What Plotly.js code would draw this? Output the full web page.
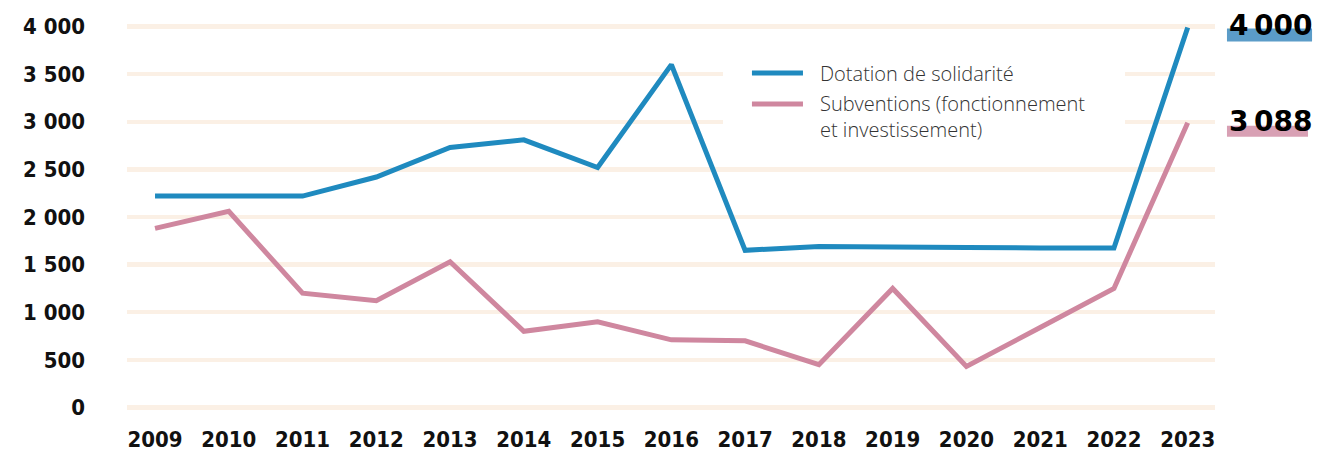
<!DOCTYPE html>
<html>
<head>
<meta charset="utf-8">
<script src="https://cdn.plot.ly/plotly-3.0.1.min.js"></script>
<style>html,body{margin:0;padding:0;background:#fff;}#chart{width:1344px;height:455px;}</style>
</head>
<body>
<div id="chart"></div>
<script>
// ---- data ----
const years = [2009, 2010, 2011, 2012, 2013, 2014, 2015, 2016, 2017, 2018, 2019, 2020, 2021, 2022, 2023];
const dotation = [2220, 2220, 2220, 2420, 2730, 2810, 2520, 3600, 1650, 1690, 1690, 1680, 1675, 1675, 3990];
const subventions = [1880, 2060, 1200, 1120, 1530, 800, 900, 710, 700, 450, 1250, 430, 840, 1250, 2990];
const seriesNames = ["Dotation de solidarité", "Subventions (fonctionnement<br>et investissement)"];
const endLabels = ["4\u2009000", "3\u2009088"];
const yTicks = [0, 500, 1000, 1500, 2000, 2500, 3000, 3500, 4000];

const blue = "#1f8abf";
const pink = "#cf879f";
const tickFont = {family: "'DejaVu Sans Condensed', 'Liberation Sans Narrow', sans-serif", size: 22, color: "#111", weight: 700};

const traces = [
  {x: years, y: dotation, name: seriesNames[0], type: "scatter", mode: "lines",
   line: {color: blue, width: 5}, showlegend: false, hoverinfo: "x+y"},
  {x: years, y: subventions, name: seriesNames[1], type: "scatter", mode: "lines",
   line: {color: pink, width: 5}, showlegend: false, hoverinfo: "x+y"}
];

const lastIdx = years.length - 1;
const legendFont = {family: "'Open Sans', 'Noto Sans', sans-serif", size: 20, color: "#333", weight: 300};
const labelFont = {family: "'DejaVu Sans', sans-serif", size: 28, color: "#000", weight: 700};

const shapes = [
  // white legend background (breaks gridlines)
  {type: "rect", xref: "paper", yref: "paper", x0: 0.5478, x1: 0.9173, y0: 0.6796, y1: 0.9049,
   fillcolor: "#ffffff", line: {width: 0}, layer: "above"},
  // legend line samples
  {type: "line", xref: "paper", yref: "paper", x0: 0.5744, x1: 0.6213, y0: 0.8598, y1: 0.8598,
   line: {color: blue, width: 5}, layer: "above"},
  {type: "line", xref: "paper", yref: "paper", x0: 0.5744, x1: 0.6213, y0: 0.7822, y1: 0.7822,
   line: {color: pink, width: 5}, layer: "above"},
  // highlight bars under end labels
  {type: "rect", xref: "paper", yref: "y", ysizemode: "pixel", yanchor: dotation[lastIdx],
   x0: 1.0110, x1: 1.0892, y0: -14, y1: -1, fillcolor: "#5b9cc8", line: {width: 0}, layer: "above"},
  {type: "rect", xref: "paper", yref: "y", ysizemode: "pixel", yanchor: subventions[lastIdx],
   x0: 1.0110, x1: 1.0855, y0: -14, y1: -3, fillcolor: "#d8a0b4", line: {width: 0}, layer: "above"}
];

const annotations = [
  {xref: "paper", yref: "paper", x: 0.6351, y: 0.8598, xanchor: "left", yanchor: "middle",
   text: seriesNames[0], showarrow: false, font: legendFont, align: "left"},
  {xref: "paper", yref: "paper", x: 0.6351, y: 0.7509, xanchor: "left", yanchor: "middle",
   text: seriesNames[1], showarrow: false, font: legendFont, align: "left"},
  {xref: "paper", yref: "y", x: 1.0110, y: dotation[lastIdx], xanchor: "left", yanchor: "middle", yshift: 2,
   text: endLabels[0], showarrow: false, font: labelFont},
  {xref: "paper", yref: "y", x: 1.0110, y: subventions[lastIdx], xanchor: "left", yanchor: "middle", yshift: 1,
   text: endLabels[1], showarrow: false, font: labelFont}
];

const layout = {
  width: 1344, height: 455,
  margin: {l: 127, r: 129, t: 17, b: 38, pad: 0},
  paper_bgcolor: "#fff", plot_bgcolor: "#fff",
  separators: ", ",
  showlegend: false,
  xaxis: {
    range: [2008.62, 2023.37], tickmode: "array", tickvals: years, ticktext: years.map(String),
    showgrid: false, zeroline: false, showline: false, ticks: "", ticklabelstandoff: 7,
    tickfont: tickFont, fixedrange: true
  },
  yaxis: {
    range: [-100, 4100], tickmode: "array", tickvals: yTicks,
    separatethousands: true, tickformat: ",d",
    showgrid: true, gridcolor: "#fbf0e5", gridwidth: 4.5, zeroline: false, showline: false,
    ticks: "", ticklabelstandoff: 41, tickfont: tickFont, fixedrange: true
  },
  shapes: shapes,
  annotations: annotations
};

Plotly.newPlot("chart", traces, layout, {displayModeBar: false, staticPlot: true});
</script>
</body>
</html>
